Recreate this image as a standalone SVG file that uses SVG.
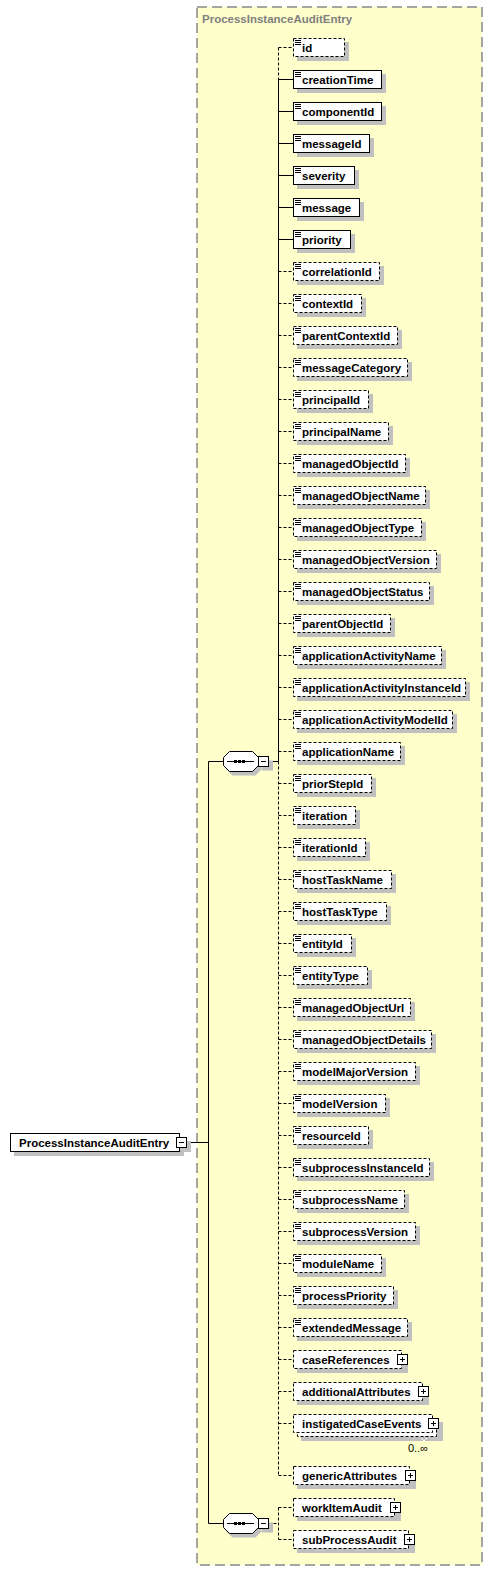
<svg xmlns="http://www.w3.org/2000/svg" xmlns:xlink="http://www.w3.org/1999/xlink" width="493" height="1571" viewBox="0 0 493 1571">
<style>
.sh{fill:#c0c0c0}
.box{fill:#fff;stroke:#000;stroke-width:1}
.opt{stroke-dasharray:3,2}
.t{font-family:"Liberation Sans",Arial,sans-serif;font-weight:bold;font-size:11.5px;fill:#000}
.ln{stroke:#000;stroke-width:1;fill:none}
.dl{stroke-dasharray:3,2}
.ttl{font-family:"Liberation Sans",Arial,sans-serif;font-weight:bold;font-size:11.5px;fill:#808080}
.m{font-family:"Liberation Sans",Arial,sans-serif;font-size:11px;fill:#000}
</style>
<defs>
<path id="ic" d="M0,0.5h6M0,2.5h6M0,4.5h6" stroke="#000" stroke-width="1" fill="none"/>
<g id="plus"><rect x="0.5" y="-5" width="10" height="10" fill="#fff" stroke="#000"/><path d="M3,0H8M5.5,-2.5V2.5" stroke="#000" fill="none"/></g>
<g id="comp">
<path d="M229.5,-10H252.5L258.5,-4V4L252.5,10H229.5L223.5,4V-4Z" transform="translate(3,4)" class="sh"/>
<rect x="262" y="-1" width="11" height="10" class="sh"/>
<path d="M229.5,-10H252.5L258.5,-4V4L252.5,10H229.5L223.5,4V-4Z" class="box"/>
<path d="M227,0H254" class="ln"/>
<rect x="234" y="-1.5" width="3" height="3" fill="#000"/>
<rect x="238" y="-1.5" width="3" height="3" fill="#000"/>
<rect x="242" y="-1.5" width="3" height="3" fill="#000"/>
<rect x="258.5" y="-5" width="10" height="10" class="box"/>
<path d="M261,0H266" class="ln"/>
</g>
</defs>

<rect x="197" y="7" width="285" height="1558" fill="#ffffcc" stroke="#888" stroke-width="1.5" stroke-dasharray="10,5"/>
<text class="ttl" x="202" y="23">ProcessInstanceAuditEntry</text>

<g id="connectors">
<path class="ln" d="M187,1142.5H208.5M208.5,761.5V1523.5M208.5,761.5H223.5M208.5,1523.5H223.5"/>
<path class="ln" d="M268.5,761.5H278.5M278.5,79.5V761.5"/>
<path class="ln dl" d="M278.5,47.5V79.5M278.5,761.5V1475.5"/>
<path class="ln" d="M278.5,79.5H293M278.5,111.5H293M278.5,143.5H293M278.5,175.5H293M278.5,207.5H293M278.5,239.5H293"/>
<path class="ln dl" d="M278.5,47.5H293M278.5,271.5H293M278.5,303.5H293M278.5,335.5H293M278.5,367.5H293M278.5,399.5H293M278.5,431.5H293M278.5,463.5H293M278.5,495.5H293M278.5,527.5H293M278.5,559.5H293M278.5,591.5H293M278.5,623.5H293M278.5,655.5H293M278.5,687.5H293M278.5,719.5H293M278.5,751.5H293M278.5,783.5H293M278.5,815.5H293M278.5,847.5H293M278.5,879.5H293M278.5,911.5H293M278.5,943.5H293M278.5,975.5H293M278.5,1007.5H293M278.5,1039.5H293M278.5,1071.5H293M278.5,1103.5H293M278.5,1135.5H293M278.5,1167.5H293M278.5,1199.5H293M278.5,1231.5H293M278.5,1263.5H293M278.5,1295.5H293M278.5,1327.5H293M278.5,1359.5H293M278.5,1391.5H293M278.5,1423.5H293M278.5,1475.5H293"/>
<path class="ln dl" d="M268.5,1523.5H278.5M278.5,1507.5V1539.5M278.5,1507.5H293M278.5,1539.5H293"/>
</g>

<g id="root">
<rect class="sh" x="14" y="1137" width="170" height="19"/>
<rect class="sh" x="180" y="1141" width="11" height="11"/>
<rect class="box" x="10.5" y="1133.5" width="169" height="18"/>
<text class="t" x="19" y="1147">ProcessInstanceAuditEntry</text>
<rect class="box" x="176.5" y="1137.5" width="10" height="10"/>
<path class="ln" d="M179,1142.5H184"/>
</g>

<g id="seq1"><use xlink:href="#comp" href="#comp" transform="translate(0,761.5)"/></g>
<g id="seq2"><use xlink:href="#comp" href="#comp" transform="translate(0,1523.5)"/></g>

<g id="e-id"><rect class="sh" x="297" y="42" width="52" height="19"/><rect class="box opt" x="293.5" y="38.5" width="51" height="18"/><use href="#ic" x="295" y="40"/><text class="t" x="302" y="52">id</text></g>
<g id="e-creationTime"><rect class="sh" x="297" y="74" width="89" height="19"/><rect class="box" x="293.5" y="70.5" width="88" height="18"/><use href="#ic" x="295" y="72"/><text class="t" x="302" y="84">creationTime</text></g>
<g id="e-componentId"><rect class="sh" x="297" y="106" width="89" height="19"/><rect class="box" x="293.5" y="102.5" width="88" height="18"/><use href="#ic" x="295" y="104"/><text class="t" x="302" y="116">componentId</text></g>
<g id="e-messageId"><rect class="sh" x="297" y="138" width="77" height="19"/><rect class="box" x="293.5" y="134.5" width="76" height="18"/><use href="#ic" x="295" y="136"/><text class="t" x="302" y="148">messageId</text></g>
<g id="e-severity"><rect class="sh" x="297" y="170" width="62" height="19"/><rect class="box" x="293.5" y="166.5" width="61" height="18"/><use href="#ic" x="295" y="168"/><text class="t" x="302" y="180">severity</text></g>
<g id="e-message"><rect class="sh" x="297" y="202" width="67" height="19"/><rect class="box" x="293.5" y="198.5" width="66" height="18"/><use href="#ic" x="295" y="200"/><text class="t" x="302" y="212">message</text></g>
<g id="e-priority"><rect class="sh" x="297" y="234" width="58" height="19"/><rect class="box" x="293.5" y="230.5" width="57" height="18"/><use href="#ic" x="295" y="232"/><text class="t" x="302" y="244">priority</text></g>
<g id="e-correlationId"><rect class="sh" x="297" y="266" width="87" height="19"/><rect class="box opt" x="293.5" y="262.5" width="86" height="18"/><use href="#ic" x="295" y="264"/><text class="t" x="302" y="276">correlationId</text></g>
<g id="e-contextId"><rect class="sh" x="297" y="298" width="69" height="19"/><rect class="box opt" x="293.5" y="294.5" width="68" height="18"/><use href="#ic" x="295" y="296"/><text class="t" x="302" y="308">contextId</text></g>
<g id="e-parentContextId"><rect class="sh" x="297" y="330" width="105" height="19"/><rect class="box opt" x="293.5" y="326.5" width="104" height="18"/><use href="#ic" x="295" y="328"/><text class="t" x="302" y="340">parentContextId</text></g>
<g id="e-messageCategory"><rect class="sh" x="297" y="362" width="115" height="19"/><rect class="box opt" x="293.5" y="358.5" width="114" height="18"/><use href="#ic" x="295" y="360"/><text class="t" x="302" y="372">messageCategory</text></g>
<g id="e-principalId"><rect class="sh" x="297" y="394" width="76" height="19"/><rect class="box opt" x="293.5" y="390.5" width="75" height="18"/><use href="#ic" x="295" y="392"/><text class="t" x="302" y="404">principalId</text></g>
<g id="e-principalName"><rect class="sh" x="297" y="426" width="96" height="19"/><rect class="box opt" x="293.5" y="422.5" width="95" height="18"/><use href="#ic" x="295" y="424"/><text class="t" x="302" y="436">principalName</text></g>
<g id="e-managedObjectId"><rect class="sh" x="297" y="458" width="113" height="19"/><rect class="box opt" x="293.5" y="454.5" width="112" height="18"/><use href="#ic" x="295" y="456"/><text class="t" x="302" y="468">managedObjectId</text></g>
<g id="e-managedObjectName"><rect class="sh" x="297" y="490" width="133" height="19"/><rect class="box opt" x="293.5" y="486.5" width="132" height="18"/><use href="#ic" x="295" y="488"/><text class="t" x="302" y="500">managedObjectName</text></g>
<g id="e-managedObjectType"><rect class="sh" x="297" y="522" width="129" height="19"/><rect class="box opt" x="293.5" y="518.5" width="128" height="18"/><use href="#ic" x="295" y="520"/><text class="t" x="302" y="532">managedObjectType</text></g>
<g id="e-managedObjectVersion"><rect class="sh" x="297" y="554" width="144" height="19"/><rect class="box opt" x="293.5" y="550.5" width="143" height="18"/><use href="#ic" x="295" y="552"/><text class="t" x="302" y="564">managedObjectVersion</text></g>
<g id="e-managedObjectStatus"><rect class="sh" x="297" y="586" width="137" height="19"/><rect class="box opt" x="293.5" y="582.5" width="136" height="18"/><use href="#ic" x="295" y="584"/><text class="t" x="302" y="596">managedObjectStatus</text></g>
<g id="e-parentObjectId"><rect class="sh" x="297" y="618" width="98" height="19"/><rect class="box opt" x="293.5" y="614.5" width="97" height="18"/><use href="#ic" x="295" y="616"/><text class="t" x="302" y="628">parentObjectId</text></g>
<g id="e-applicationActivityName"><rect class="sh" x="297" y="650" width="149" height="19"/><rect class="box opt" x="293.5" y="646.5" width="148" height="18"/><use href="#ic" x="295" y="648"/><text class="t" x="302" y="660">applicationActivityName</text></g>
<g id="e-applicationActivityInstanceId"><rect class="sh" x="297" y="682" width="173" height="19"/><rect class="box opt" x="293.5" y="678.5" width="172" height="18"/><use href="#ic" x="295" y="680"/><text class="t" x="302" y="692">applicationActivityInstanceId</text></g>
<g id="e-applicationActivityModelId"><rect class="sh" x="297" y="714" width="160" height="19"/><rect class="box opt" x="293.5" y="710.5" width="159" height="18"/><use href="#ic" x="295" y="712"/><text class="t" x="302" y="724">applicationActivityModelId</text></g>
<g id="e-applicationName"><rect class="sh" x="297" y="746" width="108" height="19"/><rect class="box opt" x="293.5" y="742.5" width="107" height="18"/><use href="#ic" x="295" y="744"/><text class="t" x="302" y="756">applicationName</text></g>
<g id="e-priorStepId"><rect class="sh" x="297" y="778" width="79" height="19"/><rect class="box opt" x="293.5" y="774.5" width="78" height="18"/><use href="#ic" x="295" y="776"/><text class="t" x="302" y="788">priorStepId</text></g>
<g id="e-iteration"><rect class="sh" x="297" y="810" width="63" height="19"/><rect class="box opt" x="293.5" y="806.5" width="62" height="18"/><use href="#ic" x="295" y="808"/><text class="t" x="302" y="820">iteration</text></g>
<g id="e-iterationId"><rect class="sh" x="297" y="842" width="73" height="19"/><rect class="box opt" x="293.5" y="838.5" width="72" height="18"/><use href="#ic" x="295" y="840"/><text class="t" x="302" y="852">iterationId</text></g>
<g id="e-hostTaskName"><rect class="sh" x="297" y="874" width="99" height="19"/><rect class="box opt" x="293.5" y="870.5" width="98" height="18"/><use href="#ic" x="295" y="872"/><text class="t" x="302" y="884">hostTaskName</text></g>
<g id="e-hostTaskType"><rect class="sh" x="297" y="906" width="94" height="19"/><rect class="box opt" x="293.5" y="902.5" width="93" height="18"/><use href="#ic" x="295" y="904"/><text class="t" x="302" y="916">hostTaskType</text></g>
<g id="e-entityId"><rect class="sh" x="297" y="938" width="59" height="19"/><rect class="box opt" x="293.5" y="934.5" width="58" height="18"/><use href="#ic" x="295" y="936"/><text class="t" x="302" y="948">entityId</text></g>
<g id="e-entityType"><rect class="sh" x="297" y="970" width="75" height="19"/><rect class="box opt" x="293.5" y="966.5" width="74" height="18"/><use href="#ic" x="295" y="968"/><text class="t" x="302" y="980">entityType</text></g>
<g id="e-managedObjectUrl"><rect class="sh" x="297" y="1002" width="118" height="19"/><rect class="box opt" x="293.5" y="998.5" width="117" height="18"/><use href="#ic" x="295" y="1000"/><text class="t" x="302" y="1012">managedObjectUrl</text></g>
<g id="e-managedObjectDetails"><rect class="sh" x="297" y="1034" width="139" height="19"/><rect class="box opt" x="293.5" y="1030.5" width="138" height="18"/><use href="#ic" x="295" y="1032"/><text class="t" x="302" y="1044">managedObjectDetails</text></g>
<g id="e-modelMajorVersion"><rect class="sh" x="297" y="1066" width="123" height="19"/><rect class="box opt" x="293.5" y="1062.5" width="122" height="18"/><use href="#ic" x="295" y="1064"/><text class="t" x="302" y="1076">modelMajorVersion</text></g>
<g id="e-modelVersion"><rect class="sh" x="297" y="1098" width="93" height="19"/><rect class="box opt" x="293.5" y="1094.5" width="92" height="18"/><use href="#ic" x="295" y="1096"/><text class="t" x="302" y="1108">modelVersion</text></g>
<g id="e-resourceId"><rect class="sh" x="297" y="1130" width="76" height="19"/><rect class="box opt" x="293.5" y="1126.5" width="75" height="18"/><use href="#ic" x="295" y="1128"/><text class="t" x="302" y="1140">resourceId</text></g>
<g id="e-subprocessInstanceId"><rect class="sh" x="297" y="1162" width="137" height="19"/><rect class="box opt" x="293.5" y="1158.5" width="136" height="18"/><use href="#ic" x="295" y="1160"/><text class="t" x="302" y="1172">subprocessInstanceId</text></g>
<g id="e-subprocessName"><rect class="sh" x="297" y="1194" width="112" height="19"/><rect class="box opt" x="293.5" y="1190.5" width="111" height="18"/><use href="#ic" x="295" y="1192"/><text class="t" x="302" y="1204">subprocessName</text></g>
<g id="e-subprocessVersion"><rect class="sh" x="297" y="1226" width="123" height="19"/><rect class="box opt" x="293.5" y="1222.5" width="122" height="18"/><use href="#ic" x="295" y="1224"/><text class="t" x="302" y="1236">subprocessVersion</text></g>
<g id="e-moduleName"><rect class="sh" x="297" y="1258" width="89" height="19"/><rect class="box opt" x="293.5" y="1254.5" width="88" height="18"/><use href="#ic" x="295" y="1256"/><text class="t" x="302" y="1268">moduleName</text></g>
<g id="e-processPriority"><rect class="sh" x="297" y="1290" width="101" height="19"/><rect class="box opt" x="293.5" y="1286.5" width="100" height="18"/><use href="#ic" x="295" y="1288"/><text class="t" x="302" y="1300">processPriority</text></g>
<g id="e-extendedMessage"><rect class="sh" x="297" y="1322" width="115" height="19"/><rect class="box opt" x="293.5" y="1318.5" width="114" height="18"/><use href="#ic" x="295" y="1320"/><text class="t" x="302" y="1332">extendedMessage</text></g>

<g id="e-caseReferences"><rect class="sh" x="297" y="1354" width="111" height="19"/><rect class="box opt" x="293.5" y="1350.5" width="108" height="18"/><text class="t" x="302" y="1364">caseReferences</text><use href="#plus" x="397" y="1359.5"/></g>
<g id="e-additionalAttributes"><rect class="sh" x="297" y="1386" width="132" height="19"/><rect class="box opt" x="293.5" y="1382.5" width="129" height="18"/><text class="t" x="302" y="1396">additionalAttributes</text><use href="#plus" x="418" y="1391.5"/></g>
<g id="e-instigatedCaseEvents">
<rect class="sh" x="301" y="1422" width="142" height="19"/>
<rect class="box opt" x="297.5" y="1418.5" width="139" height="18"/>
<rect class="box opt" x="293.5" y="1414.5" width="139" height="18"/>
<text class="t" x="302" y="1428">instigatedCaseEvents</text><use href="#plus" x="428" y="1423.5"/>
<path d="M421,1438L424,1441L427,1438" stroke="#fff" fill="none"/>
<text class="m" x="428" y="1452" text-anchor="end">0..∞</text>
</g>
<g id="e-genericAttributes"><rect class="sh" x="297" y="1470" width="119" height="19"/><rect class="box opt" x="293.5" y="1466.5" width="116" height="18"/><text class="t" x="302" y="1480">genericAttributes</text><use href="#plus" x="405" y="1475.5"/></g>
<g id="e-workItemAudit"><rect class="sh" x="297" y="1502" width="104" height="19"/><rect class="box opt" x="293.5" y="1498.5" width="101" height="18"/><text class="t" x="302" y="1512">workItemAudit</text><use href="#plus" x="390" y="1507.5"/></g>
<g id="e-subProcessAudit"><rect class="sh" x="297" y="1534" width="118" height="19"/><rect class="box opt" x="293.5" y="1530.5" width="115" height="18"/><text class="t" x="302" y="1544">subProcessAudit</text><use href="#plus" x="404" y="1539.5"/></g>
</svg>
